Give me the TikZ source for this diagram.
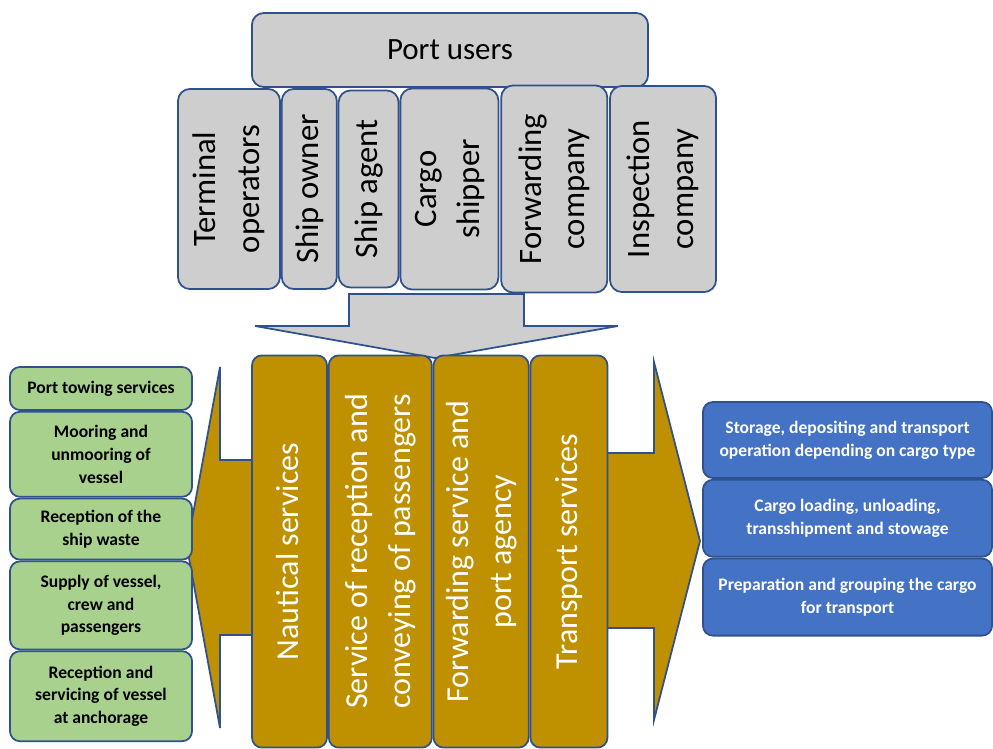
\documentclass[tikz,border=0pt]{standalone}
\usepackage{fontspec}
\setmainfont{Carlito}
\usepackage{graphicx}
\usetikzlibrary{positioning}

\definecolor{edgeblue}{HTML}{2F528F}
\definecolor{usergray}{RGB}{207,206,206}
\definecolor{svcgold}{HTML}{BF9000}
\definecolor{navgreen}{HTML}{A9D18E}
\definecolor{cargoblue}{HTML}{4472C4}

\newcommand{\vlabel}[1]{\rotatebox{90}{\begin{tabular}{@{}c@{}}#1\end{tabular}}}

\begin{document}
\begin{tikzpicture}[
    x=0.01cm, y=-0.01cm,
    node distance=0cm,
    userbox/.style={draw=edgeblue, fill=usergray, line width=0.5pt, rounded corners=0.12cm, inner sep=1pt, align=center, font=\fontsize{9.3}{12.4}\selectfont},
    svcbox/.style={draw=edgeblue, fill=svcgold, line width=0.5pt, rounded corners=0.1cm, inner sep=1pt, minimum height=3.92cm, text=white, font=\fontsize{9.1}{12.2}\selectfont},
    navbox/.style={draw=edgeblue, fill=navgreen, line width=0.5pt, rounded corners=0.1cm, inner sep=1pt, minimum width=1.82cm, align=center, font=\fontsize{5}{6.5}\selectfont\bfseries},
    cargobox/.style={draw=edgeblue, fill=cargoblue, line width=0.5pt, rounded corners=0.1cm, inner sep=1pt, minimum width=2.89cm, minimum height=0.77cm, align=center, text=white, font=\fontsize{5}{6.6}\selectfont\bfseries},
    bigarrow/.style={draw=edgeblue, line width=0.5pt, line join=miter}
]
\useasboundingbox (0,0) rectangle (993,749);

% block arrows, behind the boxes
\draw[bigarrow, fill=usergray] (349,294) -- (524,294) -- (524,326) -- (618,326) -- (435,358) -- (255,326) -- (349,326) -- cycle;
\draw[bigarrow, fill=svcgold] (260,460) -- (220,460) -- (220,367) -- (187,547) -- (220,728) -- (220,635) -- (260,635) -- cycle;
\draw[bigarrow, fill=svcgold] (600,453) -- (654,453) -- (654,362) -- (700,541) -- (654,720) -- (654,628) -- (600,628) -- cycle;

% port users
\node[userbox, minimum width=3.96cm, minimum height=0.74cm, font=\fontsize{8.8}{11}\selectfont] (users) at (450,50) {Port users};
\node[userbox, minimum width=1.02cm, minimum height=2cm] (term) at (229,189) {\vlabel{Terminal\\operators}};
\node[userbox, minimum width=0.55cm, minimum height=2cm, right=of term] (owner) {\vlabel{Ship owner}};
\node[userbox, minimum width=0.6cm, minimum height=1.97cm, right=of owner] (agent) {\vlabel{Ship agent}};
\node[userbox, minimum width=0.98cm, minimum height=2.01cm, right=of agent] (shipper) {\vlabel{Cargo\\shipper}};
\node[userbox, minimum width=1.06cm, minimum height=2.07cm, right=0.01cm of shipper] (fwdco) {\vlabel{Forwarding\\company}};
\node[userbox, minimum width=1.06cm, minimum height=2.06cm, right=0.01cm of fwdco] (inspco) {\vlabel{Inspection\\company}};

% port services
\node[svcbox, minimum width=0.75cm] (naut) at (289.5,551.5) {\vlabel{Nautical services}};
\node[svcbox, minimum width=1.03cm, right=of naut] (passeng) {\vlabel{Service of reception and\\conveying of passengers}};
\node[svcbox, minimum width=0.95cm, right=of passeng] (agency) {\vlabel{Forwarding service and\\port agency}};
\node[svcbox, minimum width=0.77cm, right=of agency] (transp) {\vlabel{Transport services}};

% nautical
\node[navbox, minimum height=0.43cm] (towing) at (101,388.5) {Port towing services};
\node[navbox, minimum height=0.85cm, below=of towing] (mooring) {Mooring and\\unmooring of\\vessel};
\node[navbox, minimum height=0.61cm, below=of mooring] (waste) {Reception of the\\ship waste};
\node[navbox, minimum height=0.88cm, below=of waste] (supply) {Supply of vessel,\\crew and\\passengers};
\node[navbox, minimum height=0.9cm, below=of supply] (anchorage) {Reception and\\servicing of vessel\\at anchorage};

% cargo
\node[cargobox, minimum height=0.76cm] (storage) at (847.5,440) {Storage, depositing and transport\\operation depending on cargo type};
\node[cargobox, below=of storage] (loading) {Cargo loading, unloading,\\transshipment and stowage};
\node[cargobox, below=of loading] (grouping) {Preparation and grouping the cargo\\for transport};
\end{tikzpicture}
\end{document}
